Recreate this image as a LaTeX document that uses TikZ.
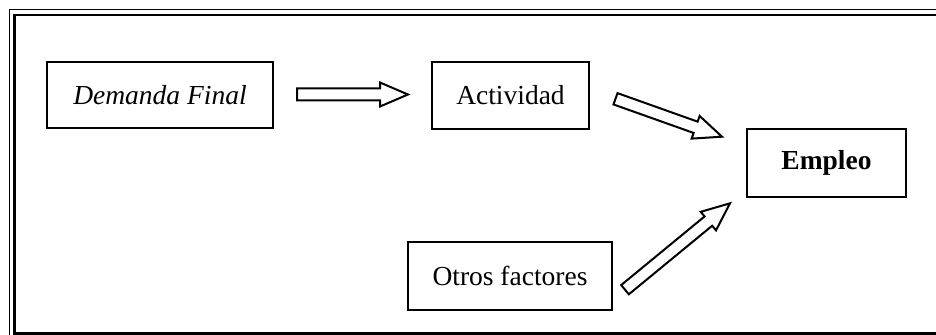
\documentclass[tikz,border=0pt]{standalone}
\usepackage{fontspec}
\setmainfont{Liberation Serif}
\usetikzlibrary{calc}
\tikzset{
  box/.style={draw, line width=1pt, inner sep=0pt, font=\fontsize{13.75}{16}\selectfont},
  blockarrowstyle/.style={draw, line width=1pt, line join=miter, fill=white}
}
\newcommand\blockarrow[2]{%
  \coordinate (h) at ($(#2)!14pt!(#1)$);
  \draw[blockarrowstyle]
    ($(#1)!3pt!90:(#2)$) -- ($(h)!3pt!-90:(#1)$) -- ($(h)!6pt!-90:(#1)$)
    -- (#2) -- ($(h)!6pt!90:(#1)$) -- ($(h)!3pt!90:(#1)$)
    -- ($(#1)!3pt!-90:(#2)$) -- cycle;
}
\begin{document}
\begin{tikzpicture}[x=0.5pt,y=-0.5pt]
\useasboundingbox (0,0) rectangle (936,335);
\clip (0,0) rectangle (936,335);
% frame
\draw[line width=0.9pt] (9.5,9.5) rectangle (980,380);
\draw[line width=1.4pt] (14.8,15) rectangle (960,333.6);
% boxes
\node[box, minimum width=113pt, minimum height=33pt] (dem) at (160,95) {\itshape Demanda Final};
\node[box, minimum width=78.5pt, minimum height=33.5pt] (act) at (510.5,95.5) {Actividad};
\node[box, minimum width=79.5pt, minimum height=34pt] (emp) at (826.5,163) {\bfseries Empleo};
\node[box, minimum width=102pt, minimum height=34pt] (otr) at (510,276) {Otros factores};
% arrow endpoints
\coordinate (a1s) at (297,94.5);
\coordinate (a1e) at (408,94.5);
\coordinate (a2s) at (615.5,98.8);
\coordinate (a2e) at (722,136.7);
\coordinate (a3s) at (625,289.7);
\coordinate (a3e) at (730,203.3);
\blockarrow{a1s}{a1e}
\blockarrow{a2s}{a2e}
\blockarrow{a3s}{a3e}
\end{tikzpicture}
\end{document}
